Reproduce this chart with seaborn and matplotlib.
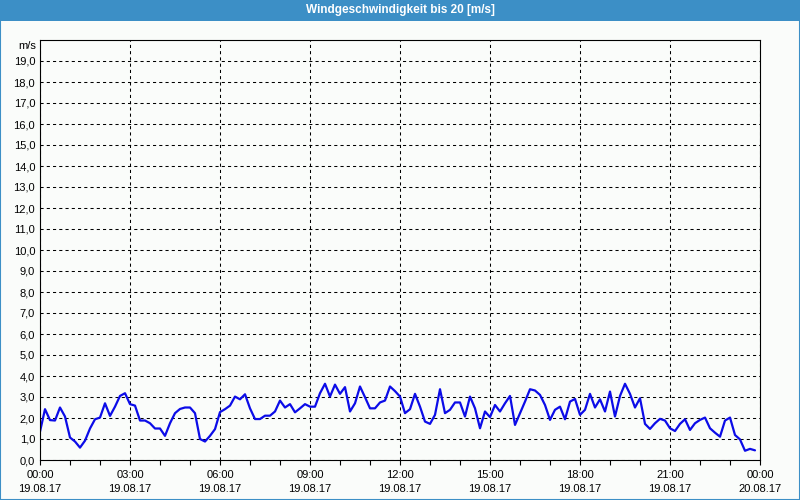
import numpy as np
import pandas as pd
import matplotlib
matplotlib.use("Agg")
import matplotlib.pyplot as plt
import matplotlib.dates as mdates
from matplotlib import font_manager
from matplotlib.patches import Rectangle
import seaborn as sns

# ---- data -------------------------------------------------------------
title = "Windgeschwindigkeit bis 20 [m/s]"
unit = "m/s"
start = "2017-08-19 00:00"
end = "2017-08-20 00:00"
interval = "10min"
wind = [1.35, 2.42, 1.90, 1.88, 2.50, 2.07, 1.07, 0.88, 0.59, 0.92,
        1.50, 1.94, 2.02, 2.70, 2.10, 2.54, 3.05, 3.18, 2.66, 2.59,
        1.88, 1.88, 1.75, 1.50, 1.50, 1.15, 1.75, 2.23, 2.43, 2.50,
        2.50, 2.23, 1.00, 0.88, 1.15, 1.47, 2.28, 2.42, 2.59, 3.02,
        2.89, 3.13, 2.46, 1.95, 1.95, 2.11, 2.11, 2.31, 2.83, 2.50,
        2.66, 2.27, 2.46, 2.66, 2.54, 2.54, 3.18, 3.63, 3.02, 3.59,
        3.15, 3.47, 2.31, 2.70, 3.50, 2.99, 2.46, 2.46, 2.74, 2.83,
        3.50, 3.28, 3.02, 2.23, 2.42, 3.15, 2.54, 1.83, 1.72, 2.15,
        3.37, 2.23, 2.39, 2.74, 2.74, 2.07, 3.02, 2.46, 1.51, 2.31,
        2.04, 2.62, 2.31, 2.70, 3.05, 1.67, 2.23, 2.78, 3.37, 3.31,
        3.10, 2.62, 1.91, 2.39, 2.54, 1.94, 2.78, 2.91, 2.15, 2.39,
        3.15, 2.50, 2.89, 2.31, 3.26, 2.07, 3.05, 3.63, 3.15, 2.50,
        2.94, 1.72, 1.48, 1.75, 1.96, 1.88, 1.51, 1.38, 1.72, 1.94,
        1.43, 1.75, 1.91, 2.02, 1.51, 1.30, 1.11, 1.88, 2.02, 1.19,
        0.98, 0.44, 0.53, 0.46]
y_ticks = list(range(0, 20))
y_tick_labels = [f"{v},0" for v in y_ticks]

# ---- style ------------------------------------------------------------
sns.set_theme(style="white")
plt.rcParams["font.family"] = ["Liberation Sans", "DejaVu Sans"]
available = {f.name for f in font_manager.fontManager.ttflist}
title_family = next((f for f in ["Liberation Sans Narrow", "DejaVu Sans Condensed",
                                 "Liberation Sans"] if f in available), "DejaVu Sans")

bg = "#fafcfa"
blue_bar = "#3c8fc6"
W, H = 800, 500

times = pd.date_range(start, periods=len(wind), freq=interval)
df = pd.DataFrame({"time": times, "wind": wind})

fig = plt.figure(figsize=(8, 5), dpi=100, facecolor=bg)
ax = fig.add_axes([40 / W, 40 / H, 720 / W, 420 / H])
ax.set_facecolor(bg)

sns.lineplot(data=df, x="time", y="wind", ax=ax, color="#0c0ce8",
             linewidth=1.6, legend=False)

ax.set_xlim(pd.Timestamp(start), pd.Timestamp(end))
ax.set_ylim(0, 20)
ax.set_xlabel("")
ax.set_ylabel("")

ax.set_yticks(y_ticks)
ax.set_yticklabels(y_tick_labels)
ax.xaxis.set_major_locator(mdates.HourLocator(byhour=range(0, 24, 3)))
ax.xaxis.set_minor_locator(mdates.HourLocator())
ax.xaxis.set_major_formatter(mdates.DateFormatter("%H:%M\n%d.%m.%y"))

ax.tick_params(axis="y", length=0, pad=3.5, labelsize=8, colors="black")
ax.tick_params(axis="x", which="both", direction="out", length=3.5,
               width=0.8, color="black", pad=4, labelsize=8, labelcolor="black",
               bottom=True)
for lbl in ax.get_xticklabels():
    lbl.set_linespacing(1.45)

ax.grid(True, which="major", linestyle=(0, (3, 3)), color="black", linewidth=0.75)
for s in ax.spines.values():
    s.set_visible(True)
    s.set_color("black")
    s.set_linewidth(0.8)

fig.text(36 / W, 1 - 46 / H, unit, ha="right", va="center", fontsize=8,
         color="black")

# title bar and frame
fig.patches.append(Rectangle((0, 1 - 21 / H), 1, 21 / H, transform=fig.transFigure,
                             facecolor=blue_bar, edgecolor="none", zorder=0))
fig.text(0.5, 1 - 10.5 / H, title, ha="center", va="center", color="white",
         fontsize=8.5, fontweight="bold", family=title_family)
fig.patches.append(Rectangle((0, 0), 1, 1, transform=fig.transFigure, fill=False,
                             edgecolor=blue_bar, linewidth=1.5, zorder=5))

fig.savefig("out.png", dpi=100, facecolor=bg)
